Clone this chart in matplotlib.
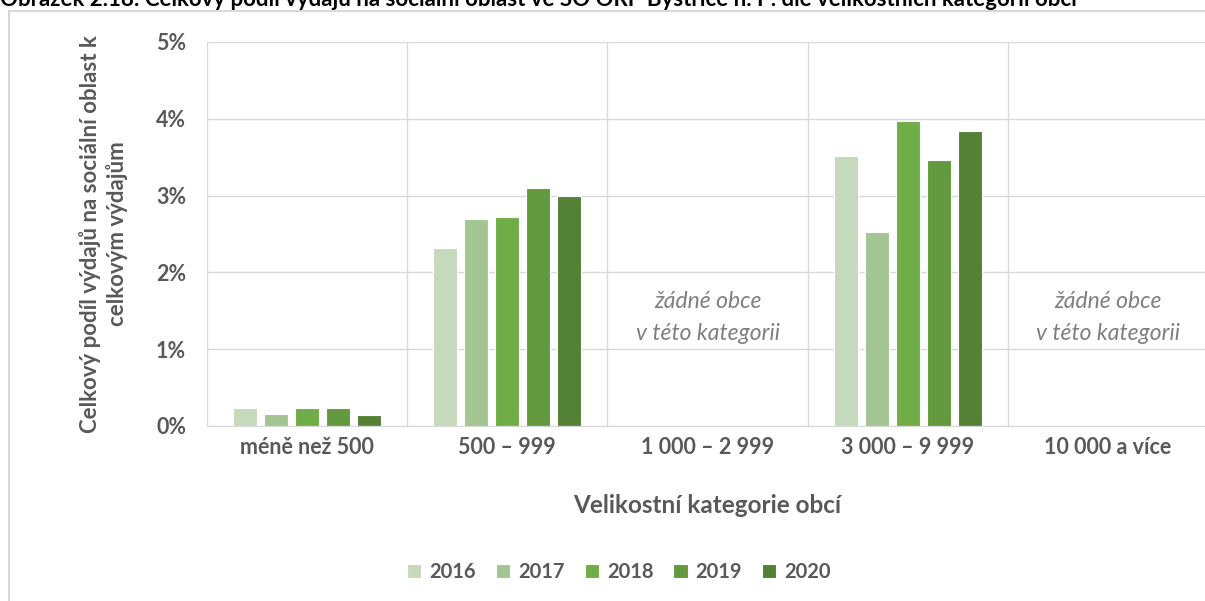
import matplotlib
matplotlib.use("Agg")
import matplotlib.pyplot as plt
import numpy as np
from matplotlib.patches import Rectangle
from matplotlib.ticker import FixedLocator

plt.rcParams['font.family'] = ['Lato', 'DejaVu Sans']

categories = ['méně než 500', '500 – 999', '1 000 – 2 999', '3 000 – 9 999', '10 000 a více']
years = ['2016', '2017', '2018', '2019', '2020']
# podíl v % pro každý rok (nan = žádné obce v kategorii)
v2016 = [0.23, 2.32, np.nan, 3.52, np.nan]
v2017 = [0.16, 2.70, np.nan, 2.53, np.nan]
v2018 = [0.23, 2.72, np.nan, 3.97, np.nan]
v2019 = [0.23, 3.10, np.nan, 3.47, np.nan]
v2020 = [0.14, 3.00, np.nan, 3.84, np.nan]
series = [v2016, v2017, v2018, v2019, v2020]
colors = ['#c5d9bc', '#a3c591', '#70ad47', '#639a3f', '#538135']
empty_note = 'žádné obce\nv této kategorii'

gray = '#595959'
grid = '#d9d9d9'

fig = plt.figure(figsize=(12.05, 6.01), dpi=100)
ax = fig.add_axes([207 / 1205, 1 - 426 / 601, 1001 / 1205, 384 / 601])

x = np.arange(len(categories))
w = 0.12
step = 0.155
for i, (vals, c, yr) in enumerate(zip(series, colors, years)):
    ax.bar(x + (i - 2) * step, vals, width=w, color=c, edgecolor='white',
           linewidth=0.8, label=yr, zorder=3)

ax.set_xlim(-0.5, 4.5)
ax.set_ylim(0, 5)
ax.set_yticks(range(6))
ax.set_yticklabels([f'{v}%' for v in range(6)])
ax.set_xticks(x)
ax.set_xticklabels(categories)
ax.xaxis.set_minor_locator(FixedLocator(np.arange(-0.5, 4.6, 1)))
ax.grid(axis='y', color=grid, linewidth=1, zorder=0)
ax.grid(axis='x', which='minor', color=grid, linewidth=1, zorder=0)
ax.tick_params(axis='both', which='both', length=0)
ax.tick_params(axis='y', pad=15, labelsize=15.5, labelcolor=gray)
ax.tick_params(axis='x', pad=8, labelsize=15.5, labelcolor=gray)
for lbl in ax.get_xticklabels() + ax.get_yticklabels():
    lbl.set_fontweight('bold')
for s in ['top', 'right', 'left']:
    ax.spines[s].set_visible(False)
ax.spines['bottom'].set_color(grid)
ax.spines['bottom'].set_zorder(4)

for ci in [2, 4]:
    ax.text(ci, 1.41, empty_note, ha='center', va='center', fontsize=16.5,
            style='italic', color='#7f7f7f', linespacing=1.65, zorder=5,
            bbox=dict(facecolor='white', edgecolor='none', pad=3))

ax.set_xlabel('Velikostní kategorie obcí', fontsize=17.5, fontweight='bold',
              color=gray, labelpad=26)
ax.set_ylabel('Celkový podíl výdajů na sociální oblast k\ncelkovým výdajům',
              fontsize=16, fontweight='bold', color=gray, labelpad=20,
              linespacing=1.3)

handles, labels = ax.get_legend_handles_labels()
fig.legend(handles, labels, loc='center', bbox_to_anchor=(619 / 1205, 1 - 572 / 601),
           ncol=5, frameon=False, handlelength=0.7, handleheight=0.7,
           handletextpad=0.4, columnspacing=1.0,
           prop={'weight': 'bold', 'size': 14.5})
for t in fig.legends[0].get_texts():
    t.set_color(gray)

# rámeček grafu
fig.add_artist(Rectangle((9 / 1205, -0.05), 1.1, 1.05 - 11.5 / 601,
                         transform=fig.transFigure, fill=False,
                         edgecolor=grid, linewidth=1.5, clip_on=False))

# titulek obrázku (v předloze uříznutý horním okrajem)
fig.text(0.0, 1 + 1 / 601,
         'Obrázek 2.18: Celkový podíl výdajů na sociální oblast ve SO ORP Bystřice n. P. dle velikostních kategorií obcí',
         ha='left', va='center', fontsize=16, fontweight='bold', color='black')

fig.savefig('out.png', dpi=100)
